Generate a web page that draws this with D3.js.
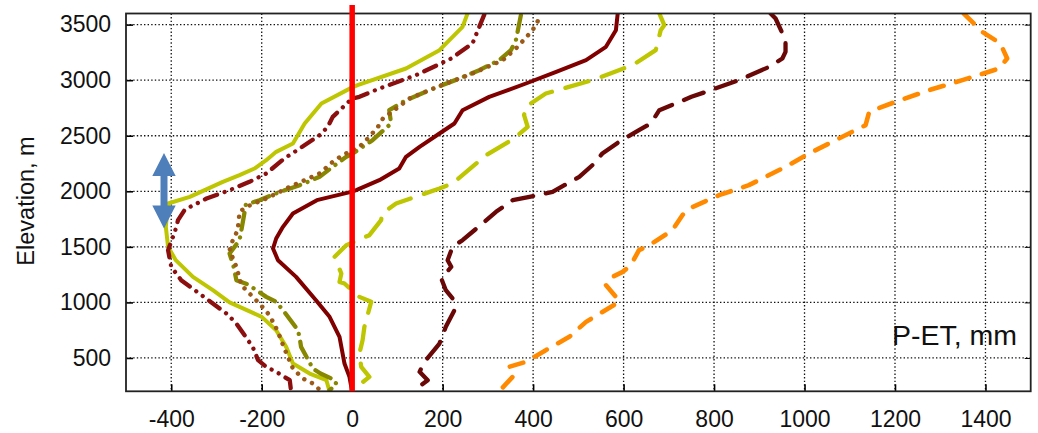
<!DOCTYPE html>
<html>
<head>
<meta charset="utf-8">
<script src="https://cdn.jsdelivr.net/npm/d3@7"></script>
<style>
  body { margin: 0; background: #fff; }
  svg { display: block; }
  text { font-family: "Liberation Sans", Arial, sans-serif; }
</style>
</head>
<body>
<svg id="chart" width="1038" height="433"></svg>
<script>
// Axis ticks
const xTicks = [-400, -200, 0, 200, 400, 600, 800, 1000, 1200, 1400];
const yTicks = [500, 1000, 1500, 2000, 2500, 3000, 3500];

// Yellow-green solid
const ygSolidElev = [3600, 3480, 3270, 3105, 2955, 2935, 2790, 2610, 2430, 2355, 2280, 2205, 2145, 2085, 1950, 1890, 1680, 1500, 1380, 1230, 1110, 1000, 870, 750, 600, 450, 360, 300, 200];
const ygSolidPET = [255, 244, 193, 119, 12, 0, -68, -105, -131, -168, -190, -216, -249, -286, -359, -407, -412, -407, -390, -352, -308, -271, -200, -168, -146, -131, -94, -57, -50];

// Dark red dash-dot-dot
const redDddElev = [3590, 3330, 3195, 3045, 2925, 2850, 2835, 2670, 2580, 2505, 2385, 2295, 2160, 2085, 2010, 1935, 1835, 1740, 1635, 1470, 1320, 1200, 1065, 900, 810, 600, 480, 420, 375, 300, 200];
const redDddPET = [292, 266, 219, 141, 60, 16, 0, -43, -54, -72, -116, -150, -190, -227, -271, -322, -370, -385, -392, -407, -400, -378, -333, -278, -256, -220, -208, -190, -168, -138, -135];

// Olive dash-dot
const oliveElev = [3585, 3360, 3270, 3180, 3090, 3015, 2910, 2820, 2730, 2610, 2460, 2340, 2310, 2220, 2130, 2055, 1995, 1920, 1880, 1740, 1560, 1440, 1320, 1200, 1160, 1050, 1005, 915, 750, 680, 600, 405, 360, 300, 260, 210];
const olivePET = [373, 362, 351, 325, 281, 237, 171, 119, 82, 86, 45, 1, -13, -43, -72, -116, -160, -205, -235, -241, -249, -271, -262, -256, -230, -190, -168, -150, -120, -116, -113, -87, -70, -38, -35, -50];

// Brown dotted
const brownElev = [3530, 3450, 3365, 3285, 3180, 3060, 2935, 2835, 2655, 2580, 2490, 2400, 2325, 2265, 2160, 2040, 1935, 1860, 1815, 1650, 1560, 1470, 1320, 1155, 1080, 990, 900, 825, 735, 585, 405, 315, 270, 200];
const brownPET = [410, 399, 380, 362, 333, 266, 185, 127, 68, 57, 38, 16, -21, -43, -72, -138, -190, -234, -249, -253, -264, -271, -256, -245, -227, -205, -186, -175, -164, -150, -131, -109, -87, -68];

// Dark red solid
const redSolidElev = [3600, 3450, 3300, 3180, 3075, 2970, 2850, 2730, 2610, 2520, 2400, 2310, 2205, 2100, 2010, 1997, 1920, 1800, 1680, 1575, 1485, 1380, 1230, 1020, 870, 690, 450, 330, 240, 200];
const redSolidPET = [587, 583, 561, 517, 451, 384, 303, 244, 226, 193, 149, 119, 104, 60, 9, 0, -78, -131, -153, -168, -175, -164, -124, -80, -50, -28, -17, -6, -2, 0];

// Yellow-green dashed
const ygDashElev = [3600, 3495, 3450, 3330, 3270, 3135, 3000, 2880, 2760, 2685, 2580, 2475, 2325, 2070, 2025, 1890, 1800, 1740, 1605, 1515, 1410, 1260, 1185, 1170, 1050, 1005, 885, 780, 660, 540, 420, 330, 210];
const ygDashPET = [679, 690, 682, 675, 671, 620, 531, 428, 384, 380, 388, 358, 296, 222, 193, 97, 66, 64, 38, -13, -39, -24, -28, -17, 16, 42, 34, 27, 23, 16, 20, 38, 1];

// Maroon long dash
const maroonElev = [3600, 3555, 3360, 3255, 3195, 3120, 3000, 2895, 2850, 2730, 2610, 2550, 2445, 2340, 2235, 2130, 1995, 1950, 1920, 1815, 1710, 1560, 1500, 1380, 1320, 1215, 1110, 1035, 930, 780, 630, 465, 375, 300, 200];
const maroonPET = [925, 936, 958, 958, 951, 922, 855, 782, 750, 679, 660, 634, 590, 553, 531, 502, 443, 392, 355, 318, 288, 244, 222, 211, 219, 197, 207, 222, 226, 207, 193, 160, 149, 167, 134];

// Orange short dash
const orangeElev = [3600, 3435, 3330, 3195, 3105, 3000, 2910, 2805, 2715, 2595, 2475, 2340, 2220, 2055, 1965, 1845, 1785, 1650, 1515, 1470, 1335, 1275, 1215, 1155, 1050, 1005, 825, 690, 570, 465, 420, 345, 200];
const orangePET = [1352, 1393, 1433, 1448, 1430, 1349, 1275, 1201, 1143, 1135, 1076, 1010, 958, 877, 811, 745, 730, 708, 657, 634, 616, 598, 568, 561, 583, 590, 517, 480, 428, 384, 347, 358, 325];

// Blue double arrow (P-ET position, elevation span)
const arrowPET = -416;
const arrowElev = [1665, 2345];

const zip = (elev, pet) => elev.map((e, i) => ({ elev: e, pet: pet[i] }));

const series = [
  { data: zip(ygSolidElev, ygSolidPET), color: "#bdc600", dash: null, width: 4 },
  { data: zip(redDddElev, redDddPET), color: "#8c0f0f", dash: "13,8,0.01,8,0.01,8", width: 4.3 },
  { data: zip(oliveElev, olivePET), color: "#878700", dash: "17,8,0.01,8", width: 4.3 },
  { data: zip(brownElev, brownPET), color: "#9b5a18", dash: "0.01,8.5", width: 4.5 },
  { data: zip(redSolidElev, redSolidPET), color: "#800000", dash: null, width: 4 },
  { data: zip(ygDashElev, ygDashPET), color: "#bdc600", dash: "24,14", width: 4.3 },
  { data: zip(maroonElev, maroonPET), color: "#6a0707", dash: "21,13", width: 4.3 },
  { data: zip(orangeElev, orangePET), color: "#ff8a00", dash: "14,13", width: 4.6 }
];

const svg = d3.select("#chart");
const margin = { left: 126, top: 13.5, right: 1030.7, bottom: 391.3 };

const x = d3.scaleLinear().domain([-500, 1500]).range([margin.left, margin.right]);
const y = d3.scaleLinear().domain([200, 3600]).range([margin.bottom, margin.top]);

svg.append("defs").append("clipPath").attr("id", "plotClip")
  .append("rect")
  .attr("x", margin.left).attr("y", margin.top)
  .attr("width", margin.right - margin.left)
  .attr("height", margin.bottom - margin.top);

// grid
const grid = svg.append("g").attr("class", "grid")
  .attr("stroke", "#111").attr("stroke-width", 1.3).attr("stroke-dasharray", "1.4,2.2");
grid.selectAll(".gx").data(xTicks).join("line")
  .attr("x1", (d) => x(d)).attr("x2", (d) => x(d))
  .attr("y1", margin.top).attr("y2", margin.bottom);
grid.selectAll(".gy").data(yTicks).join("line")
  .attr("x1", margin.left).attr("x2", margin.right)
  .attr("y1", (d) => y(d)).attr("y2", (d) => y(d));

// axes (inward ticks, labels outside); plain hyphen minus like the original
const fmt = (d) => String(d);
const xAxis = d3.axisBottom(x).tickValues(xTicks).tickSize(-7).tickPadding(16).tickFormat(fmt);
const yAxis = d3.axisLeft(y).tickValues(yTicks).tickSize(-7).tickPadding(16).tickFormat(fmt);

const gx = svg.append("g").attr("transform", `translate(0,${margin.bottom})`).call(xAxis);
const gy = svg.append("g").attr("transform", `translate(${margin.left},0)`).call(yAxis);
svg.append("g").attr("transform", `translate(${margin.right},0)`)
  .call(d3.axisRight(y).tickValues(yTicks).tickSize(-6).tickFormat(""))
  .call((g) => g.select(".domain").remove());

[gx, gy].forEach((g) => {
  g.attr("font-family", null).attr("font-size", null);
  g.select(".domain").remove();
  g.selectAll(".tick line").attr("stroke", "#000").attr("stroke-width", 1.6);
  g.selectAll(".tick text")
    .attr("fill", "#111")
    .style("font-family", '"Liberation Sans", Arial, sans-serif')
    .style("font-size", "23px");
});
gx.selectAll(".tick text").attr("dy", "0.85em");
gy.selectAll(".tick text").attr("dx", "0.05em");

// series lines
const line = d3.line().x((d) => x(d.pet)).y((d) => y(d.elev));
const lines = svg.append("g").attr("clip-path", "url(#plotClip)");
series.forEach((s) => {
  lines.append("path")
    .datum(s.data)
    .attr("d", line)
    .attr("fill", "none")
    .attr("stroke", s.color)
    .attr("stroke-width", s.width)
    .attr("stroke-linejoin", "round")
    .attr("stroke-linecap", "round")
    .attr("stroke-dasharray", s.dash);
});

// frame
svg.append("rect")
  .attr("x", margin.left).attr("y", margin.top)
  .attr("width", margin.right - margin.left)
  .attr("height", margin.bottom - margin.top)
  .attr("fill", "none").attr("stroke", "#222").attr("stroke-width", 1.8);

// zero line
svg.append("line")
  .attr("x1", x(0)).attr("x2", x(0))
  .attr("y1", 5).attr("y2", margin.bottom)
  .attr("stroke", "#ff0000").attr("stroke-width", 5.5);

// blue double arrow
const ax = x(arrowPET);
const aTop = y(arrowElev[1]);
const aBot = y(arrowElev[0]);
const headH = 23, headW = 11.7, shaftW = 3.5;
svg.append("path")
  .attr("d", [
    `M${ax},${aTop}`,
    `L${ax + headW},${aTop + headH}`,
    `L${ax + shaftW},${aTop + headH}`,
    `L${ax + shaftW},${aBot - headH}`,
    `L${ax + headW},${aBot - headH}`,
    `L${ax},${aBot}`,
    `L${ax - headW},${aBot - headH}`,
    `L${ax - shaftW},${aBot - headH}`,
    `L${ax - shaftW},${aTop + headH}`,
    `L${ax - headW},${aTop + headH}`,
    "Z"
  ].join(""))
  .attr("fill", "#4e7fbb");

// labels
svg.append("text")
  .attr("transform", "translate(33.5,201) rotate(-90)")
  .attr("text-anchor", "middle")
  .attr("fill", "#111")
  .style("font-size", "23.5px")
  .text("Elevation, m");

svg.append("text")
  .attr("x", 1017).attr("y", 345)
  .attr("text-anchor", "end")
  .attr("fill", "#111")
  .style("font-size", "28.5px")
  .text("P-ET, mm");
</script>
</body>
</html>
